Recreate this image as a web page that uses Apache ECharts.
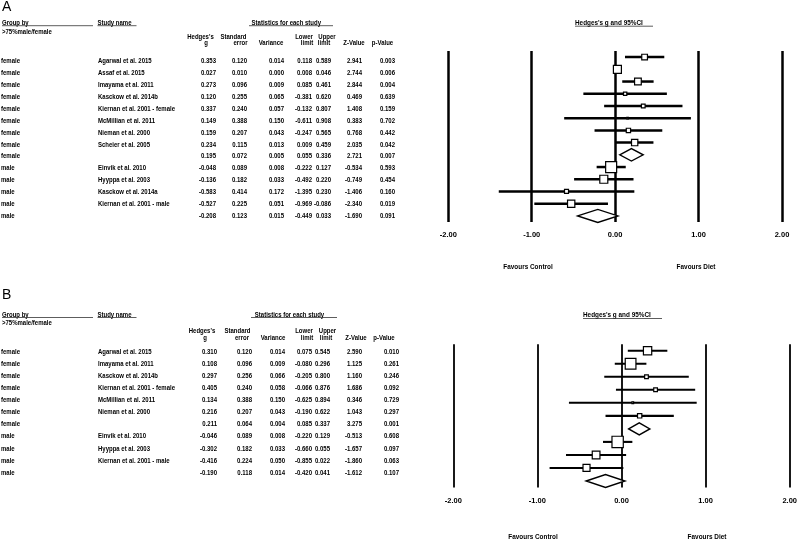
<!DOCTYPE html>
<html>
<head>
<meta charset="utf-8">
<script src="https://cdn.jsdelivr.net/npm/echarts@6/dist/echarts.min.js"></script>
<style>html,body{margin:0;padding:0;background:#fff}#chart{width:800px;height:540px}</style>
</head>
<body>
<div id="chart"></div>
<script>
// ---------------- DATA: panel A ----------------
const groupA = ['female','female','female','female','female','female','female','female','female','male','male','male','male','male'];
const studyA = ['Agarwal et al. 2015','Assaf et al. 2015','Imayama et al. 2011','Kasckow et al. 2014b','Kiernan et al. 2001 - female','McMillian et al. 2011','Nieman et al. 2000','Scheier et al. 2005','','Einvik et al. 2010','Hyyppa et al. 2003','Kasckow et al. 2014a','Kiernan et al. 2001 - male',''];
const gA   = [0.353, 0.027, 0.273, 0.120, 0.337, 0.149, 0.159, 0.234, 0.195, -0.048, -0.136, -0.583, -0.527, -0.208];
const seA  = [0.120, 0.010, 0.096, 0.255, 0.240, 0.388, 0.207, 0.115, 0.072, 0.089, 0.182, 0.414, 0.225, 0.123];
const varA = [0.014, 0.000, 0.009, 0.065, 0.057, 0.150, 0.043, 0.013, 0.005, 0.008, 0.033, 0.172, 0.051, 0.015];
const lowA = [0.118, 0.008, 0.085, -0.381, -0.132, -0.611, -0.247, 0.009, 0.055, -0.222, -0.492, -1.395, -0.969, -0.449];
const upA  = [0.589, 0.046, 0.461, 0.620, 0.807, 0.908, 0.565, 0.459, 0.336, 0.127, 0.220, 0.230, -0.086, 0.033];
const zA   = [2.941, 2.744, 2.844, 0.469, 1.408, 0.383, 0.768, 2.035, 2.721, -0.534, -0.749, -1.406, -2.340, -1.690];
const pA   = [0.003, 0.006, 0.004, 0.639, 0.159, 0.702, 0.442, 0.042, 0.007, 0.593, 0.454, 0.160, 0.019, 0.091];

// ---------------- DATA: panel B ----------------
const groupB = ['female','female','female','female','female','female','female','male','male','male','male'];
const studyB = ['Agarwal et al. 2015','Imayama et al. 2011','Kasckow et al. 2014b','Kiernan et al. 2001 - female','McMillian et al. 2011','Nieman et al. 2000','','Einvik et al. 2010','Hyyppa et al. 2003','Kiernan et al. 2001 - male',''];
const gB   = [0.310, 0.108, 0.297, 0.405, 0.134, 0.216, 0.211, -0.046, -0.302, -0.416, -0.190];
const seB  = [0.120, 0.096, 0.256, 0.240, 0.388, 0.207, 0.064, 0.089, 0.182, 0.224, 0.118];
const varB = [0.014, 0.009, 0.066, 0.058, 0.150, 0.043, 0.004, 0.008, 0.033, 0.050, 0.014];
const lowB = [0.075, -0.080, -0.205, -0.066, -0.625, -0.190, 0.085, -0.220, -0.660, -0.855, -0.420];
const upB  = [0.545, 0.296, 0.800, 0.876, 0.894, 0.622, 0.337, 0.129, 0.055, 0.022, 0.041];
const zB   = [2.590, 1.125, 1.160, 1.686, 0.346, 1.043, 3.275, -0.513, -1.657, -1.860, -1.612];
const pB   = [0.010, 0.261, 0.246, 0.092, 0.729, 0.297, 0.001, 0.608, 0.097, 0.063, 0.107];

// ---------------- TEXT LABELS ----------------
const headTop = ["Hedges's", 'Standard', '', 'Lower', 'Upper', '', ''];
const headBot = ['g', 'error', 'Variance', 'limit', 'limit', 'Z-Value', 'p-Value'];
const plotTitle = "Hedges's g and 95%CI";
const favours = ['Favours Control', 'Favours Diet'];

// ---------------- STYLE / LAYOUT (not data) ----------------
const squareSizeA = [5.7, 8, 6.7, 3.3, 3.7, 1.5, 4.3, 6.3, 12.5, 11, 8, 4, 7.3, 13];
const squareSizeB = [8.3, 10.7, 3.7, 3.7, 1.7, 4.3, 12, 11.3, 7.7, 7, 13];
const FONT = "'Liberation Sans', Arial, sans-serif";
const FS = 7.5;        // table font size
const SX = 0.8;        // horizontal condensing of table text
const FW = 'bold';
const L = {
  A: { colRight: [216, 247, 284, 312, 331, 362, 395],
       headTopX: [200.5, 233.5, 0, 304, 327, 0, 0], headBotX: [206, 240.5, 271, 307, 324, 354, 382.5],
       headTopY: 36.7, headBotY: 43.3, titleY: 22.7, subY: 31.7, ulY: 25.7, panelY: 7,
       statX: 286.3, statUl: [249, 333], plotTitleX: 575, plotUl: [575, 653], plotTitleY: 23, plotUlY: 26.2,
       favY: 266.7, favX: [528, 696],
       plotGrid: { left: 448.3, right: 18, top: 51, height: 171 }, tableGrid: { left: 0, width: 400, top: 55.04, height: 166.9 },
       labelMargin: 8.5, vLine: 2.5, ciLine: 2.5 },
  B: { colRight: [217, 252, 285, 312, 330, 362, 399],
       headTopX: [202, 237.5, 0, 304, 327.5, 0, 0], headBotX: [205, 242, 273, 307, 326, 356, 384],
       headTopY: 331, headBotY: 338.3, titleY: 315, subY: 322.7, ulY: 317.5, panelY: 295,
       statX: 289.5, statUl: [251, 337], plotTitleX: 583, plotUl: [583, 662], plotTitleY: 315, plotUlY: 318.5,
       favY: 536.7, favX: [533, 707],
       plotGrid: { left: 453.3, right: 6.7, top: 344.2, height: 143.3 }, tableGrid: { left: 0, width: 400, top: 345.65, height: 133.1 },
       labelMargin: 9.7, vLine: 1.8, ciLine: 2.1 }
};

const chart = echarts.init(document.getElementById('chart'), null, { renderer: 'canvas' });

function fmt3(v) { return v.toFixed(3); }
// condensed text element (works both in custom series and graphic component)
function ntext(text, x, y, align, size, weight, sx) {
  return { type: 'text', silent: true, x: x, y: y, scaleX: sx == null ? SX : sx,
    style: { text: text, x: 0, y: 0, align: align || 'left', verticalAlign: 'middle', fill: '#000',
             fontSize: size || FS, fontFamily: FONT, fontWeight: weight || FW } };
}

function panel(key, P, D, gi) {
  const rowCats = D.study.map((_, i) => String(i));
  const grids = [
    Object.assign({}, P.plotGrid),
    Object.assign({}, P.tableGrid)
  ];
  const xAxes = [
    { gridIndex: gi, type: 'value', min: -2, max: 2, interval: 1,
      axisLine: { show: false }, axisTick: { show: false },
      splitLine: { show: true, lineStyle: { color: '#000', width: P.vLine } },
      axisLabel: { color: '#000', fontSize: 7.5, fontFamily: FONT, fontWeight: 'bold', margin: P.labelMargin, formatter: v => v.toFixed(2) } },
    { gridIndex: gi + 1, type: 'value', min: 0, max: 1, show: false }
  ];
  const yAxes = [
    { gridIndex: gi, type: 'category', data: rowCats, inverse: true, show: false, boundaryGap: true },
    { gridIndex: gi + 1, type: 'category', data: rowCats, inverse: true, show: false, boundaryGap: true }
  ];
  const plotData = D.study.map((s, i) => [D.low[i], D.up[i], D.g[i], i, s === '' ? 1 : 0, D.size[i]]);
  const plotSeries = {
    type: 'custom', xAxisIndex: gi, yAxisIndex: gi, silent: true, clip: false,
    encode: { x: [0, 1, 2], y: 3 },
    data: plotData,
    renderItem: function (params, api) {
      const lo = api.value(0), hi = api.value(1), est = api.value(2), row = api.value(3), sub = api.value(4), sz = api.value(5);
      const p1 = api.coord([lo, row]), p2 = api.coord([hi, row]), c = api.coord([est, row]);
      if (sub) {
        const h = sz;
        return { type: 'polygon', shape: { points: [[p1[0], c[1]], [c[0], c[1] - h / 2], [p2[0], c[1]], [c[0], c[1] + h / 2]] },
          style: { fill: '#fff', stroke: '#000', lineWidth: 1.4 } };
      }
      return { type: 'group', children: [
        { type: 'line', shape: { x1: p1[0], y1: p1[1], x2: p2[0], y2: p2[1] }, style: { stroke: '#000', lineWidth: P.ciLine } },
        { type: 'rect', shape: { x: c[0] - sz / 2, y: c[1] - sz / 2, width: sz, height: sz }, style: { fill: '#fff', stroke: '#000', lineWidth: 1.2 } }
      ] };
    }
  };
  const tableData = D.study.map((s, i) => [0, i]);
  const tableSeries = {
    type: 'custom', xAxisIndex: gi + 1, yAxisIndex: gi + 1, silent: true, clip: false,
    encode: { x: 0, y: 1 },
    data: tableData,
    renderItem: function (params, api) {
      const i = api.value(1);
      const y = api.coord([0, i])[1];
      const vals = [D.g[i], D.se[i], D.v[i], D.low[i], D.up[i], D.z[i], D.p[i]].map(fmt3);
      const ch = [ ntext(D.group[i], 1, y, 'left'), ntext(D.study[i], 98, y, 'left') ];
      vals.forEach((t, k) => ch.push(ntext(t, P.colRight[k], y, 'right')));
      return { type: 'group', children: ch };
    }
  };
  const ln = (x1, x2, y) => ({ type: 'line', silent: true, shape: { x1: x1, y1: y, x2: x2, y2: y }, style: { stroke: '#333', lineWidth: 0.8 } });
  const gr = [
    ntext(key, 2, P.panelY, 'left', 14, 'normal', 1),
    ntext('Group by', 2, P.titleY), ntext('>75%male/female', 2, P.subY), ln(2, 93, P.ulY),
    ntext('Study name', 97.5, P.titleY), ln(97.5, 136.5, P.ulY),
    ntext('Statistics for each study', P.statX, P.titleY, 'center'), ln(P.statUl[0], P.statUl[1], P.ulY),
    ntext(plotTitle, P.plotTitleX, P.plotTitleY, 'left', 7.5, FW, 0.85), ln(P.plotUl[0], P.plotUl[1], P.plotUlY),
    ntext(favours[0], P.favX[0], P.favY, 'center', 8, 'bold', 0.8), ntext(favours[1], P.favX[1], P.favY, 'center', 8, 'bold', 0.8)
  ];
  headTop.forEach((t, k) => { if (t) gr.push(ntext(t, P.headTopX[k], P.headTopY, 'center')); });
  headBot.forEach((t, k) => { if (t) gr.push(ntext(t, P.headBotX[k], P.headBotY, 'center')); });
  return { grids, xAxes, yAxes, series: [plotSeries, tableSeries], graphic: gr };
}

const pa = panel('A', L.A, { group: groupA, study: studyA, g: gA, se: seA, v: varA, low: lowA, up: upA, z: zA, p: pA, size: squareSizeA }, 0);
const pb = panel('B', L.B, { group: groupB, study: studyB, g: gB, se: seB, v: varB, low: lowB, up: upB, z: zB, p: pB, size: squareSizeB }, 2);

chart.setOption({
  animation: false,
  backgroundColor: '#fff',
  grid: pa.grids.concat(pb.grids),
  xAxis: pa.xAxes.concat(pb.xAxes),
  yAxis: pa.yAxes.concat(pb.yAxes),
  series: pa.series.concat(pb.series),
  graphic: pa.graphic.concat(pb.graphic)
});
</script>
</body>
</html>
